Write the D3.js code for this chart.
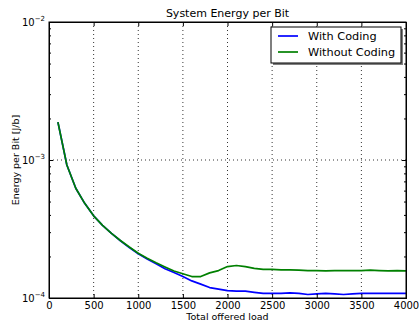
<!DOCTYPE html>
<html>
<head>
<meta charset="utf-8">
<script src="https://cdn.jsdelivr.net/npm/d3@7"></script>
<style>
  body { margin: 0; background: #fff; }
  text { font-family: "DejaVu Sans", sans-serif; fill: #000; }
</style>
</head>
<body>
<div id="vis"></div>
<script>
// data
var loads = [100, 200, 300, 400, 500, 600, 700, 800, 900, 1000,
  1100, 1200, 1300, 1400, 1500, 1600, 1700, 1800, 1900, 2000,
  2100, 2200, 2300, 2400, 2500, 2600, 2700, 2800, 2900, 3000,
  3100, 3200, 3300, 3400, 3500, 3600, 3700, 3800, 3900, 4000];
var withCoding = [1.88e-3, 9.2e-4, 6.24e-4, 4.85e-4, 3.94e-4, 3.36e-4, 2.94e-4, 2.60e-4, 2.32e-4, 2.09e-4,
  1.92e-4, 1.77e-4, 1.63e-4, 1.53e-4, 1.43e-4, 1.33e-4, 1.26e-4, 1.19e-4, 1.16e-4, 1.13e-4,
  1.12e-4, 1.12e-4, 1.10e-4, 1.08e-4, 1.08e-4, 1.08e-4, 1.09e-4, 1.08e-4, 1.06e-4, 1.07e-4,
  1.08e-4, 1.07e-4, 1.06e-4, 1.07e-4, 1.08e-4, 1.08e-4, 1.08e-4, 1.08e-4, 1.08e-4, 1.08e-4];
var withoutCoding = [1.88e-3, 9.2e-4, 6.24e-4, 4.85e-4, 3.94e-4, 3.36e-4, 2.94e-4, 2.61e-4, 2.34e-4, 2.11e-4,
  1.94e-4, 1.80e-4, 1.68e-4, 1.57e-4, 1.50e-4, 1.43e-4, 1.43e-4, 1.52e-4, 1.58e-4, 1.69e-4,
  1.72e-4, 1.69e-4, 1.64e-4, 1.61e-4, 1.61e-4, 1.60e-4, 1.60e-4, 1.59e-4, 1.58e-4, 1.58e-4,
  1.57e-4, 1.58e-4, 1.58e-4, 1.58e-4, 1.58e-4, 1.59e-4, 1.58e-4, 1.57e-4, 1.58e-4, 1.57e-4];
var seriesNames = ["With Coding", "Without Coding"];
var seriesColors = ["#0000ff", "#008000"];
var xTicks = [0, 500, 1000, 1500, 2000, 2500, 3000, 3500, 4000];
var yExponents = [-4, -3, -2];

//set margins, width, and height
var margin = {top: 22, right: 13, bottom: 23, left: 49},
  width = 419 - margin.left - margin.right,
  height = 321 - margin.top - margin.bottom;

var x = d3.scaleLinear().domain([0, 4000]).range([0, width]);
var y = d3.scaleLog().domain([1e-4, 1e-2]).range([height, 0]);

var svg = d3.select("#vis").append("svg")
  .attr("width", 419)
  .attr("height", 321);

var g = svg.append("g")
  .attr("transform", "translate(" + margin.left + "," + margin.top + ")");

//grid
g.selectAll(".xgrid").data(xTicks.slice(1, -1)).enter().append("line")
  .attr("x1", function(d) { return x(d); }).attr("x2", function(d) { return x(d); })
  .attr("y1", 0).attr("y2", height)
  .attr("stroke", "#000").attr("stroke-width", 0.8).attr("stroke-dasharray", "1,3");
g.selectAll(".ygrid").data([1e-3]).enter().append("line")
  .attr("x1", 0).attr("x2", width)
  .attr("y1", function(d) { return y(d); }).attr("y2", function(d) { return y(d); })
  .attr("stroke", "#000").attr("stroke-width", 0.8).attr("stroke-dasharray", "1,3");

//lines
var series = [withCoding, withoutCoding];
series.forEach(function(vals, i) {
  var line = d3.line()
    .x(function(d, j) { return x(loads[j]); })
    .y(function(d) { return y(d); });
  g.append("path")
    .datum(vals)
    .attr("fill", "none")
    .attr("stroke", seriesColors[i])
    .attr("stroke-width", 1.7)
    .attr("stroke-linejoin", "round")
    .attr("d", line);
});

//axes: ticks inward on all sides
var bottom = g.append("g").attr("transform", "translate(0," + height + ")")
  .call(d3.axisBottom(x).tickValues(xTicks).tickSize(-4).tickPadding(3.5).tickFormat(d3.format("d")));
g.append("g")
  .call(d3.axisTop(x).tickValues(xTicks).tickSize(-4).tickFormat(""));

var minor = [];
[-4, -3].forEach(function(e) {
  for (var k = 2; k <= 9; k++) minor.push(k * Math.pow(10, e));
});
var majors = yExponents.map(function(e) { return Math.pow(10, e); });

g.append("g").call(d3.axisLeft(y).tickValues(majors).tickSize(-4).tickFormat(""));
g.append("g").call(d3.axisLeft(y).tickValues(minor).tickSize(-2).tickFormat(""));
g.append("g").attr("transform", "translate(" + width + ",0)")
  .call(d3.axisRight(y).tickValues(majors).tickSize(-4).tickFormat(""));
g.append("g").attr("transform", "translate(" + width + ",0)")
  .call(d3.axisRight(y).tickValues(minor).tickSize(-2).tickFormat(""));

g.selectAll(".domain").attr("stroke", "#000").attr("stroke-width", 1);
g.selectAll(".tick line").attr("stroke", "#000");
bottom.selectAll(".tick text").attr("font-size", 10).attr("font-family", "DejaVu Sans");

//y tick labels as 10 with superscript
var ylab = g.selectAll(".ylab").data(yExponents).enter().append("text")
  .attr("x", -4)
  .attr("y", function(d) { return y(Math.pow(10, d)) + 4; })
  .attr("text-anchor", "end")
  .attr("font-size", 10);
ylab.append("tspan").text("10");
ylab.append("tspan").attr("dy", -5).attr("font-size", 7).text(function(d) { return "\u2212" + (-d); });

//frame
g.append("rect").attr("width", width).attr("height", height)
  .attr("fill", "none").attr("stroke", "#000").attr("stroke-width", 1);

//titles
svg.append("text")
  .attr("x", margin.left + width / 2).attr("y", 17)
  .attr("text-anchor", "middle").attr("font-size", 11)
  .text("System Energy per Bit");
svg.append("text")
  .attr("x", margin.left + width / 2).attr("y", 319.5)
  .attr("text-anchor", "middle").attr("font-size", 9.5)
  .text("Total offered load");
svg.append("text")
  .attr("transform", "translate(18.5," + (margin.top + height / 2) + ") rotate(-90)")
  .attr("text-anchor", "middle").attr("font-size", 9.5)
  .text("Energy per Bit [J/b]");

//legend
var lx = 271 - margin.left, ly = 27 - margin.top, lw = 130, lh = 36;
g.append("rect").attr("x", lx + 2).attr("y", ly + 2).attr("width", lw).attr("height", lh)
  .attr("fill", "#000").attr("opacity", 0.5);
g.append("rect").attr("x", lx).attr("y", ly).attr("width", lw).attr("height", lh)
  .attr("fill", "#fff").attr("stroke", "#000").attr("stroke-width", 1);
var legend = g.selectAll(".legend").data(seriesNames).enter().append("g")
  .attr("transform", function(d, i) { return "translate(" + (lx + 7) + "," + (ly + 9 + i * 16) + ")"; });
legend.append("line").attr("x1", 0).attr("x2", 20).attr("y1", 0).attr("y2", 0)
  .attr("stroke", function(d, i) { return seriesColors[i]; }).attr("stroke-width", 1.7);
legend.append("text").attr("x", 30).attr("y", 4).attr("font-size", 11.3)
  .text(function(d) { return d; });
</script>
</body>
</html>
